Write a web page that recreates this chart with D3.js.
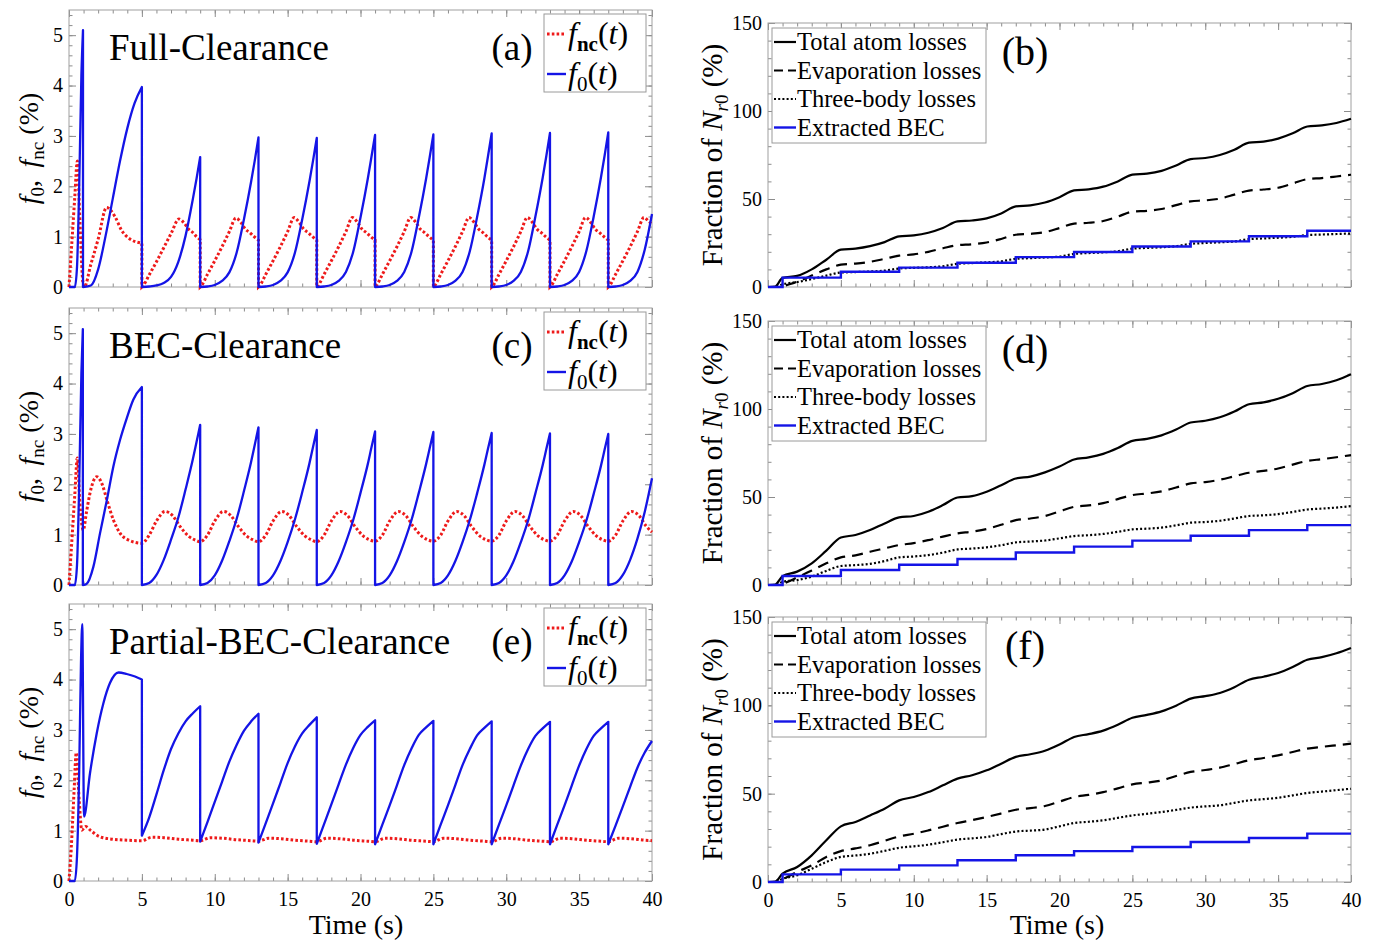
<!DOCTYPE html>
<html>
<head>
<meta charset="utf-8">
<script src="https://cdn.jsdelivr.net/npm/d3@7"></script>
<style>
  body { margin: 0; background: #fff; }
  svg text { font-family: "Liberation Serif", "Times New Roman", serif; fill: #000; }
</style>
</head>
<body>
<script>

// ---------------- data ----------------

// left column: condensate fraction f0(t) and non-condensed fraction fnc(t), in %
// a repeated time value means the curve drops vertically there
var f0Full = [
  [0,0],[0.4,0],[0.55,0.4],[0.7,2.0],[0.85,4.2],[0.96,5.1],
  [0.96,0],[1.5,0.03],[2,0.35],[2.5,1.0],[3,1.75],[3.5,2.5],[4,3.15],[4.5,3.65],[5,3.97],
  [5,0],[5.5,0.01],[6,0.03],[6.5,0.08],[7,0.2],[7.5,0.5],[8,1.02],[8.5,1.75],[8.75,2.15],[9,2.58],
  [9,0],[9.5,0.01],[10,0.04],[10.5,0.12],[11,0.29],[11.5,0.68],[12,1.34],[12.5,2.1],[12.75,2.52],[13,2.97],
  [13,0],[13.5,0.01],[14,0.04],[14.5,0.12],[15,0.29],[15.5,0.68],[16,1.34],[16.5,2.1],[16.75,2.52],[17,2.96],
  [17,0],[17.5,0.01],[18,0.04],[18.5,0.12],[19,0.3],[19.5,0.7],[20,1.38],[20.5,2.15],[20.75,2.58],[21,3.02],
  [21,0],[21.5,0.01],[22,0.04],[22.5,0.12],[23,0.3],[23.5,0.7],[24,1.38],[24.5,2.15],[24.75,2.58],[25,3.03],
  [25,0],[25.5,0.01],[26,0.04],[26.5,0.12],[27,0.3],[27.5,0.71],[28,1.39],[28.5,2.16],[28.75,2.6],[29,3.05],
  [29,0],[29.5,0.01],[30,0.04],[30.5,0.12],[31,0.3],[31.5,0.71],[32,1.4],[32.5,2.17],[32.75,2.6],[33,3.06],
  [33,0],[33.5,0.01],[34,0.04],[34.5,0.12],[35,0.3],[35.5,0.72],[36,1.4],[36.5,2.18],[36.75,2.61],[37,3.07],
  [37,0],[37.5,0.01],[38,0.04],[38.5,0.12],[39,0.3],[39.5,0.74],[40,1.45]
];
var fncFull = [
  [0,0],[0.2,0.9],[0.4,1.8],[0.57,2.5],[0.75,1.3],[0.95,0.1],[1.05,0],[1.5,0.45],[2,0.95],[2.58,1.58],[3.15,1.4],[3.6,1.13],[4.2,0.95],[5,0.87],
  [5,0],[5.1,0.03],[5.5,0.24],[6,0.5],[6.5,0.78],[7,1.06],[7.55,1.35],[7.9,1.27],[8.2,1.15],[8.5,1.08],[8.75,1.0],[9,0.94],
  [9,0],[9.1,0.03],[9.5,0.25],[10,0.52],[10.5,0.8],[11,1.1],[11.45,1.37],[11.8,1.28],[12.1,1.15],[12.4,1.08],[12.7,1.0],[13,0.93],
  [13,0],[13.1,0.03],[13.5,0.25],[14,0.52],[14.5,0.8],[15,1.1],[15.45,1.38],[15.8,1.28],[16.1,1.15],[16.4,1.08],[16.7,1.0],[17,0.93],
  [17,0],[17.1,0.03],[17.5,0.25],[18,0.52],[18.5,0.8],[19,1.1],[19.45,1.38],[19.8,1.28],[20.1,1.15],[20.4,1.08],[20.7,1.0],[21,0.93],
  [21,0],[21.1,0.03],[21.5,0.25],[22,0.52],[22.5,0.8],[23,1.1],[23.45,1.38],[23.8,1.28],[24.1,1.15],[24.4,1.08],[24.7,1.0],[25,0.93],
  [25,0],[25.1,0.03],[25.5,0.25],[26,0.52],[26.5,0.8],[27,1.1],[27.45,1.38],[27.8,1.28],[28.1,1.15],[28.4,1.08],[28.7,1.0],[29,0.93],
  [29,0],[29.1,0.03],[29.5,0.25],[30,0.52],[30.5,0.8],[31,1.1],[31.45,1.38],[31.8,1.28],[32.1,1.15],[32.4,1.08],[32.7,1.0],[33,0.93],
  [33,0],[33.1,0.03],[33.5,0.25],[34,0.52],[34.5,0.8],[35,1.1],[35.45,1.38],[35.8,1.28],[36.1,1.15],[36.4,1.08],[36.7,1.0],[37,0.93],
  [37,0],[37.1,0.03],[37.5,0.25],[38,0.52],[38.5,0.8],[39,1.1],[39.45,1.38],[39.75,1.31],[40,1.24]
];

var f0Bec = [
  [0,0],[0.4,0],[0.55,0.4],[0.7,2.0],[0.85,4.2],[0.95,5.08],
  [0.95,0],[1.2,0.02],[1.67,0.36],[2.13,1.03],[2.6,1.69],[3.04,2.35],[3.5,2.88],[3.96,3.31],[4.41,3.68],[5,3.93],
  [5,0],[5.5,0.04],[6,0.2],[6.5,0.5],[7,0.9],[7.5,1.34],[8,1.9],[8.5,2.5],[8.75,2.84],[9,3.18],
  [9,0],[9.5,0.04],[10,0.19],[10.5,0.48],[11,0.87],[11.5,1.31],[12,1.86],[12.5,2.45],[12.75,2.79],[13,3.13],
  [13,0],[13.5,0.04],[14,0.19],[14.5,0.47],[15,0.85],[15.5,1.3],[16,1.84],[16.5,2.42],[16.75,2.75],[17,3.08],
  [17,0],[17.5,0.04],[18,0.19],[18.5,0.47],[19,0.85],[19.5,1.29],[20,1.83],[20.5,2.4],[20.75,2.73],[21,3.05],
  [21,0],[21.5,0.04],[22,0.19],[22.5,0.47],[23,0.85],[23.5,1.29],[24,1.83],[24.5,2.4],[24.75,2.72],[25,3.04],
  [25,0],[25.5,0.04],[26,0.19],[26.5,0.47],[27,0.85],[27.5,1.29],[28,1.82],[28.5,2.39],[28.75,2.71],[29,3.02],
  [29,0],[29.5,0.04],[30,0.19],[30.5,0.47],[31,0.85],[31.5,1.28],[32,1.82],[32.5,2.38],[32.75,2.7],[33,3.01],
  [33,0],[33.5,0.04],[34,0.19],[34.5,0.47],[35,0.85],[35.5,1.28],[36,1.81],[36.5,2.37],[36.75,2.69],[37,3.0],
  [37,0],[37.5,0.04],[38,0.2],[38.5,0.5],[39,0.92],[39.5,1.45],[40,2.12]
];
var fncBec = [
  [0,0],[0.2,0.9],[0.4,1.8],[0.57,2.52],[0.75,1.6],[0.98,1.09],[1.2,1.45],[1.5,1.9],[1.9,2.15],[2.3,1.98],[2.6,1.69],[3.05,1.29],[3.5,1.03],[4.1,0.89],[5,0.83],
  [5.5,0.99],[6,1.27],[6.6,1.46],[7.1,1.38],[7.6,1.17],[8.2,0.97],[8.6,0.9],[9,0.86],
  [9.5,0.99],[10,1.27],[10.6,1.46],[11.1,1.38],[11.6,1.17],[12.2,0.97],[12.6,0.9],[13,0.86],
  [13.5,0.99],[14,1.27],[14.6,1.46],[15.1,1.38],[15.6,1.17],[16.2,0.97],[16.6,0.9],[17,0.86],
  [17.5,0.99],[18,1.27],[18.6,1.46],[19.1,1.38],[19.6,1.17],[20.2,0.97],[20.6,0.9],[21,0.87],
  [21.5,0.99],[22,1.27],[22.6,1.46],[23.1,1.38],[23.6,1.17],[24.2,0.97],[24.6,0.9],[25,0.87],
  [25.5,0.99],[26,1.27],[26.6,1.46],[27.1,1.38],[27.6,1.17],[28.2,0.97],[28.6,0.9],[29,0.87],
  [29.5,0.99],[30,1.27],[30.6,1.46],[31.1,1.38],[31.6,1.17],[32.2,0.97],[32.6,0.9],[33,0.87],
  [33.5,0.99],[34,1.27],[34.6,1.46],[35.1,1.38],[35.6,1.17],[36.2,0.97],[36.6,0.9],[37,0.87],
  [37.5,0.99],[38,1.27],[38.6,1.46],[39.1,1.38],[39.6,1.17],[40,1.05]
];

var f0Part = [
  [0,0],[0.4,0],[0.55,0.5],[0.7,2.2],[0.82,4.3],[0.91,5.1],[1.03,1.28],[1.44,2.14],[1.9,2.93],[2.36,3.53],[2.81,3.93],[3.4,4.14],[3.96,4.11],[4.53,4.06],[5,4.0],
  [5,0.9],[5.5,1.26],[6,1.72],[6.5,2.2],[7,2.62],[7.5,2.93],[8,3.17],[8.5,3.33],[9,3.47],
  [9,0.78],[9.5,1.17],[10,1.57],[10.5,1.97],[11,2.37],[11.5,2.7],[12,2.98],[12.5,3.17],[13,3.32],
  [13,0.76],[13.5,1.15],[14,1.54],[14.5,1.94],[15,2.34],[15.5,2.67],[16,2.93],[16.5,3.1],[17,3.25],
  [17,0.74],[17.5,1.13],[18,1.52],[18.5,1.92],[19,2.31],[19.5,2.64],[20,2.9],[20.5,3.06],[21,3.19],
  [21,0.73],[21.5,1.12],[22,1.5],[22.5,1.9],[23,2.3],[23.5,2.63],[24,2.9],[24.5,3.05],[25,3.18],
  [25,0.73],[25.5,1.12],[26,1.5],[26.5,1.9],[27,2.3],[27.5,2.62],[28,2.89],[28.5,3.04],[29,3.17],
  [29,0.73],[29.5,1.12],[30,1.5],[30.5,1.9],[31,2.29],[31.5,2.62],[32,2.88],[32.5,3.03],[33,3.16],
  [33,0.73],[33.5,1.12],[34,1.5],[34.5,1.9],[35,2.29],[35.5,2.62],[36,2.88],[36.5,3.03],[37,3.16],
  [37,0.73],[37.5,1.1],[38,1.48],[38.5,1.87],[39,2.25],[39.5,2.55],[40,2.78]
];
var fncPart = [
  [0,0],[0.2,0.9],[0.35,1.8],[0.5,2.55],[0.7,1.6],[0.88,1.01],[1.14,1.08],[1.5,1.0],[2.1,0.88],[3,0.83],[4,0.81],[5,0.8],
  [5.7,0.87],[6.5,0.86],[7.5,0.83],[8.5,0.81],[9,0.8],
  [9.7,0.86],[10.5,0.85],[11.5,0.82],[12.5,0.8],[13,0.79],
  [13.7,0.85],[14.5,0.84],[15.5,0.81],[16.5,0.79],[17,0.78],
  [17.7,0.85],[18.5,0.84],[19.5,0.81],[20.5,0.79],[21,0.78],
  [21.7,0.85],[22.5,0.84],[23.5,0.81],[24.5,0.79],[25,0.78],
  [25.7,0.85],[26.5,0.84],[27.5,0.81],[28.5,0.79],[29,0.78],
  [29.7,0.85],[30.5,0.84],[31.5,0.81],[32.5,0.79],[33,0.78],
  [33.7,0.85],[34.5,0.84],[35.5,0.81],[36.5,0.79],[37,0.78],
  [37.7,0.85],[38.5,0.84],[39.5,0.81],[40,0.8]
];

// right column: cumulative losses, as % of N_r0
var lossTimes = [0,0.5,1,2,3,4,5,6,7,8,9,10,11,12,13,14,15,16,17,18,19,20,
  21,22,23,24,25,26,27,28,29,30,31,32,33,34,35,36,37,38,39,40];

var totalFull = [0,0.3,5.2,6.3,10,15.5,21.2,21.8,23.2,25.5,28.8,29.3,30.8,33.5,37.3,37.8,39,41.8,45.8,46.4,48,51,
  54.9,55.5,57,60,63.8,64.4,66,69,72.7,73.3,75,78,82,82.6,84.3,87.3,91.2,91.8,93.2,95.6];
var evapFull = [0,0,0.5,3,6.5,10,12.7,13.3,14.3,16,17.8,18.5,20,22,23.8,24.3,25.3,27.3,29.7,30.2,31.2,33.5,
  36,36.5,37.5,40,42.8,43.3,44.3,46.5,48.7,49.2,50.2,52.5,54.8,55.4,56.4,58.8,61.3,61.9,62.8,63.8];
var threeFull = [0,0,1.5,2.8,4.5,6.5,8.2,8.5,8.8,9.3,10.5,10.9,11.2,11.8,13.2,13.6,14,14.6,16,16.4,16.8,17.3,
  18.8,19.3,19.7,20.3,21.8,22.2,22.6,23.2,24.5,25,25.4,25.9,27.2,27.6,28,28.5,29.5,29.8,30.1,30.4];

var totalBec = [0,0.3,5,7.6,12.3,19.5,27,28.4,31.2,35,38.4,39.2,41.6,45.4,49.7,50.5,53,56.7,60.5,61.6,64,67.3,
  71.3,72.5,74.5,77.8,81.9,83,85,88.3,92.3,93.3,95.3,98.6,102.7,103.8,105.8,109,113.1,114.2,116.3,119.7];
var evapBec = [0,0,0.8,4.3,8.3,12.3,15.7,16.8,18.9,20.8,22.7,23.8,25.5,27.5,29.3,30.3,31.8,34.2,36.9,37.8,39.2,41.8,
  44.4,45.2,46.5,48.8,51.1,52,53.2,55.4,57.7,58.5,59.8,61.8,63.8,64.8,66.2,68.4,70.5,71.5,72.6,73.8];
var threeBec = [0,0,1.8,2.8,4.8,8,10.8,11.3,12,13.6,15.7,16.2,17,18.4,20.2,20.7,21.4,22.6,24.2,24.7,25.3,26.5,
  27.8,28.3,29,30.2,31.6,32,32.6,33.9,35.4,35.8,36.5,37.8,39.2,39.6,40.3,41.5,42.9,43.4,44,44.8];

var totalPart = [0,0.3,4.7,8.5,15.1,23.6,31.5,34,37.7,41.5,46.2,48.1,50.9,54.7,58.5,60.4,63.2,67,70.8,72.3,74.3,77.8,
  82.1,83.7,85.7,89,93,94.6,96.6,99.8,103.8,105.2,107,110.3,114.5,116.2,118.3,121.7,125.8,127.3,129.5,132.5];
var evapPart = [0,0,1.5,5.7,9.4,14.2,17.5,19,20.8,23.3,25.8,27.3,29.2,31.3,33.4,35,36.8,38.8,40.9,41.8,43,45.5,
  48.1,49.3,50.9,53,55.3,56.3,57.5,60,62.3,63.4,64.7,66.8,68.9,70.2,71.7,73.6,75.5,76.5,77.4,78.3];
var threePart = [0,0,1.8,3.8,7.5,11.3,14.2,15,16,17.6,19.4,20.2,21.1,22.5,24,24.7,25.5,27.1,28.6,29.1,29.7,31.5,
  33.4,34.1,34.9,36.3,37.7,38.6,39.6,40.8,42.1,42.8,43.4,44.8,46.2,46.9,47.7,49,50.4,51.2,52,52.8];

// extracted BEC is a staircase, one step per extraction
var stepTimes = [0,1,5,9,13,17,21,25,29,33,37,40];
var becFull = [0,5.3,8.7,11,13.8,17,19.9,23,25.9,28.8,32,32];
var becBec  = [0,5.1,8.5,11.5,14.8,18.5,21.8,25.2,28,31.2,34,34];
var becPart = [0,4.3,7,9.4,12.3,15.1,17.5,19.8,22.6,24.9,27.4,27.4];

var lossNames = ["Total atom losses", "Evaporation losses", "Three-body losses", "Extracted BEC"];
var timeMajor = [0,5,10,15,20,25,30,35,40];
var fMajor = [0,1,2,3,4,5];
var lossMajor = [0,50,100,150];

// ---------------- drawing ----------------

var serif = "'Liberation Serif', 'Times New Roman', serif";
var blue = "#1414e6", red = "#ee1a1a";

var svg = d3.select("body").append("svg")
    .attr("width", 1375)
    .attr("height", 942)
    .attr("font-family", serif);

var xLeft = d3.scaleLinear().domain([0, 40]).range([69, 652]);
var xRight = d3.scaleLinear().domain([0, 40]).range([768, 1351]);

var leftPanels = [
    {top: 10, bottom: 287, title: "Full-Clearance", tag: "(a)", f0: f0Full, fnc: fncFull},
    {top: 308, bottom: 585, title: "BEC-Clearance", tag: "(c)", f0: f0Bec, fnc: fncBec},
    {top: 604, bottom: 881, title: "Partial-BEC-Clearance", tag: "(e)", f0: f0Part, fnc: fncPart}
];
var rightPanels = [
    {top: 23, bottom: 287, tag: "(b)", series: [totalFull, evapFull, threeFull], bec: becFull},
    {top: 321, bottom: 585, tag: "(d)", series: [totalBec, evapBec, threeBec], bec: becBec},
    {top: 617, bottom: 882, tag: "(f)", series: [totalPart, evapPart, threePart], bec: becPart}
];

// black solid, dashed, dotted, then blue solid for the BEC
var lossStyles = [
    {stroke: "#000", dash: null, width: 2.2},
    {stroke: "#000", dash: "11,7", width: 2.2},
    {stroke: "#000", dash: "2,2.2", width: 2.2},
    {stroke: blue, dash: null, width: 2.4}
];

function styleAxis(g) {
    g.attr("font-family", serif).attr("font-size", 20);
    g.select(".domain").remove();
    g.selectAll(".tick line").attr("stroke", "#8c8c8c");
    g.selectAll(".tick text")
        .style("font-family", serif)
        .style("font-size", "20px")
        .attr("fill", "#222");
}

// box with inward ticks on all four sides
function frame(x, y, yMajor, yStep, showTime) {
    var x0 = x.range()[0], x1 = x.range()[1];
    var yb = y.range()[0], yt = y.range()[1];
    var yMax = y.domain()[1];
    var xMinor = d3.range(0, 40.001, 1);
    var yMinor = d3.range(0, yMax + 1e-6, yStep);
    var g = svg.append("g");

    g.append("g").attr("transform", "translate(0," + yb + ")")
        .call(d3.axisBottom(x).tickValues(xMinor).tickSize(-3.5).tickFormat("")).call(styleAxis);
    g.append("g").attr("transform", "translate(0," + yt + ")")
        .call(d3.axisTop(x).tickValues(xMinor).tickSize(-3.5).tickFormat("")).call(styleAxis);
    g.append("g").attr("transform", "translate(" + x0 + ",0)")
        .call(d3.axisLeft(y).tickValues(yMinor).tickSize(-3.5).tickFormat("")).call(styleAxis);
    g.append("g").attr("transform", "translate(" + x1 + ",0)")
        .call(d3.axisRight(y).tickValues(yMinor).tickSize(-3.5).tickFormat("")).call(styleAxis);

    //major ticks, labels only on the left and under the bottom row
    g.append("g").attr("transform", "translate(0," + yb + ")")
        .call(d3.axisBottom(x).tickValues(timeMajor).tickSizeInner(-7).tickSizeOuter(0).tickPadding(11)
            .tickFormat(showTime ? d3.format("d") : "")).call(styleAxis);
    g.append("g").attr("transform", "translate(0," + yt + ")")
        .call(d3.axisTop(x).tickValues(timeMajor).tickSizeInner(-7).tickSizeOuter(0).tickFormat("")).call(styleAxis);
    g.append("g").attr("transform", "translate(" + x0 + ",0)")
        .call(d3.axisLeft(y).tickValues(yMajor).tickSizeInner(-7).tickSizeOuter(0).tickPadding(6)
            .tickFormat(d3.format("d"))).call(styleAxis);
    g.append("g").attr("transform", "translate(" + x1 + ",0)")
        .call(d3.axisRight(y).tickValues(yMajor).tickSizeInner(-7).tickSizeOuter(0).tickFormat("")).call(styleAxis);

    g.append("rect")
        .attr("x", x0).attr("y", yt)
        .attr("width", x1 - x0).attr("height", yb - yt)
        .attr("fill", "none")
        .attr("stroke", "#a0a0a0")
        .attr("stroke-width", 1);
}

// smooth pieces joined by straight vertical drops where a time repeats
function jumpPath(pts, x, y) {
    var line = d3.line()
        .x(function(d) { return x(d[0]); })
        .y(function(d) { return y(d[1]); })
        .curve(d3.curveMonotoneX);
    var runs = [[pts[0]]];
    for (var i = 1; i < pts.length; i++) {
        if (pts[i][0] === pts[i - 1][0]) runs.push([pts[i]]);
        else runs[runs.length - 1].push(pts[i]);
    }
    return runs.map(function(r, i) {
        var d = line(r).replace("Z", "");
        return i ? "L" + d.slice(1) : d;
    }).join("");
}

function fLegend(top) {
    var bx = 544;
    var g = svg.append("g");
    g.append("rect")
        .attr("x", bx).attr("y", top)
        .attr("width", 102).attr("height", 78)
        .attr("fill", "#fff")
        .attr("stroke", "#9a9a9a");

    var rows = [
        {cy: top + 20, color: red, dash: "2.6,2.2", sub: "nc", bold: true},
        {cy: top + 60, color: blue, dash: null, sub: "0", bold: false}
    ];
    rows.forEach(function(r) {
        g.append("line")
            .attr("x1", bx + 3).attr("x2", bx + 22)
            .attr("y1", r.cy).attr("y2", r.cy)
            .attr("stroke", r.color)
            .attr("stroke-width", r.dash ? 3 : 2.4)
            .attr("stroke-dasharray", r.dash);
        var t = g.append("text")
            .attr("x", bx + 24).attr("y", r.cy + 10)
            .style("font-size", "32px");
        t.append("tspan").style("font-style", "italic").text("f");
        t.append("tspan").attr("dy", 7).style("font-size", "21px")
            .style("font-weight", r.bold ? "bold" : "normal").text(r.sub);
        t.append("tspan").attr("dy", -7).text("(");
        t.append("tspan").style("font-style", "italic").text("t");
        t.append("tspan").text(")");
    });
}

function lossLegend(top) {
    var bx = 772;
    var g = svg.append("g");
    g.append("rect")
        .attr("x", bx).attr("y", top)
        .attr("width", 214).attr("height", 115)
        .attr("fill", "#fff")
        .attr("stroke", "#9a9a9a");
    lossNames.forEach(function(name, i) {
        var cy = top + 14 + i * 28.5;
        var st = lossStyles[i];
        g.append("line")
            .attr("x1", bx + 2).attr("x2", bx + 24)
            .attr("y1", cy).attr("y2", cy)
            .attr("stroke", st.stroke)
            .attr("stroke-width", st.width)
            .attr("stroke-dasharray", i === 1 ? "9,5" : st.dash);
        g.append("text")
            .attr("x", bx + 25).attr("y", cy + 8)
            .style("font-size", "24.5px")
            .text(name);
    });
}

// ---- left column ----
leftPanels.forEach(function(p, i) {
    var y = d3.scaleLinear().domain([0, 5.5]).range([p.bottom, p.top]);
    frame(xLeft, y, fMajor, 0.2, i === leftPanels.length - 1);

    svg.append("path")
        .attr("d", jumpPath(p.fnc, xLeft, y))
        .attr("fill", "none")
        .attr("stroke", red)
        .attr("stroke-width", 3)
        .attr("stroke-dasharray", "2.6,2.2");

    svg.append("path")
        .attr("d", jumpPath(p.f0, xLeft, y))
        .attr("fill", "none")
        .attr("stroke", blue)
        .attr("stroke-width", 2.3)
        .attr("stroke-linejoin", "round");

    svg.append("text")
        .attr("x", 109).attr("y", p.top + 50)
        .style("font-size", "37px")
        .text(p.title);

    svg.append("text")
        .attr("x", 512).attr("y", p.top + 50)
        .attr("text-anchor", "middle")
        .style("font-size", "37px")
        .text(p.tag);

    fLegend(p.top + 4);

    // y label: f0, fnc (%)
    var cy = (p.top + p.bottom) / 2;
    var lab = svg.append("text")
        .attr("transform", "translate(38," + cy + ") rotate(-90)")
        .attr("text-anchor", "middle")
        .style("font-size", "28px");
    lab.append("tspan").style("font-style", "italic").text("f");
    lab.append("tspan").attr("dy", 6).style("font-size", "19px").text("0");
    lab.append("tspan").attr("dy", -6).text(",\u2009 ");
    lab.append("tspan").style("font-style", "italic").text("f");
    lab.append("tspan").attr("dy", 6).style("font-size", "19px").text("nc");
    lab.append("tspan").attr("dy", -6).text(" (%)");
});

// ---- right column ----
rightPanels.forEach(function(p, i) {
    var y = d3.scaleLinear().domain([0, 150]).range([p.bottom, p.top]);
    frame(xRight, y, lossMajor, 10, i === rightPanels.length - 1);

    var line = d3.line()
        .x(function(d, j) { return xRight(lossTimes[j]); })
        .y(function(d) { return y(d); })
        .curve(d3.curveMonotoneX);

    p.series.forEach(function(vals, k) {
        var st = lossStyles[k];
        svg.append("path")
            .attr("d", line(vals))
            .attr("fill", "none")
            .attr("stroke", st.stroke)
            .attr("stroke-width", st.width)
            .attr("stroke-dasharray", st.dash);
    });

    var step = d3.line()
        .x(function(d, j) { return xRight(stepTimes[j]); })
        .y(function(d) { return y(d); })
        .curve(d3.curveStepAfter);
    svg.append("path")
        .attr("d", step(p.bec))
        .attr("fill", "none")
        .attr("stroke", lossStyles[3].stroke)
        .attr("stroke-width", lossStyles[3].width);

    svg.append("text")
        .attr("x", 1025).attr("y", p.top + 42)
        .attr("text-anchor", "middle")
        .style("font-size", "40px")
        .text(p.tag);

    lossLegend(p.top + 5);

    // y label: Fraction of N_r0 (%)
    var cy = (p.top + p.bottom) / 2;
    var lab = svg.append("text")
        .attr("transform", "translate(722," + cy + ") rotate(-90)")
        .attr("text-anchor", "middle")
        .style("font-size", "29px");
    lab.append("tspan").text("Fraction of ");
    lab.append("tspan").style("font-style", "italic").text("N");
    lab.append("tspan").attr("dy", 6).style("font-size", "19px").style("font-style", "italic").text("r");
    lab.append("tspan").style("font-size", "19px").text("0");
    lab.append("tspan").attr("dy", -6).text(" (%)");
});

// shared x labels
svg.append("text").attr("x", 356).attr("y", 934).attr("text-anchor", "middle")
    .style("font-size", "28px").text("Time (s)");
svg.append("text").attr("x", 1057).attr("y", 934).attr("text-anchor", "middle")
    .style("font-size", "28px").text("Time (s)");

</script>
</body>
</html>
